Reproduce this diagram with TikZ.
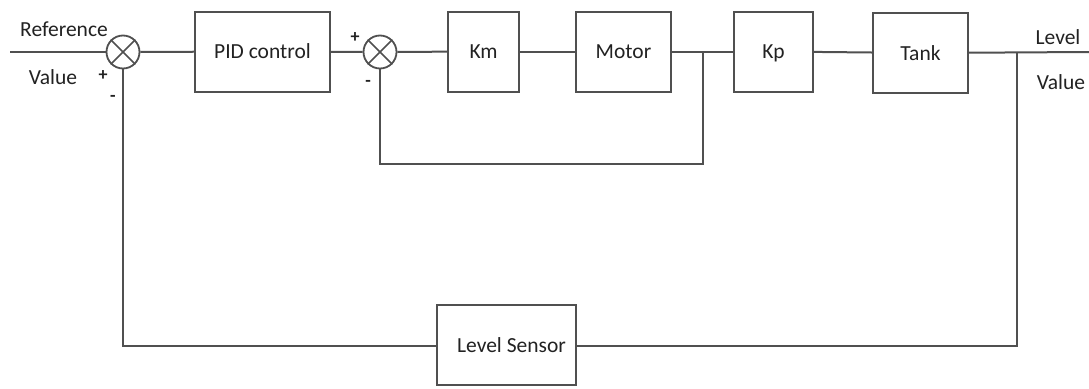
\documentclass[tikz,border=0pt]{standalone}
\usepackage{fontspec}
\setmainfont{Carlito}
\usepackage{tikz}
\usetikzlibrary{positioning,calc}
\definecolor{wire}{HTML}{505050}
\definecolor{ink}{HTML}{222222}

\begin{document}
\begin{tikzpicture}[x=1pt,y=-1pt,
  every node/.style={font=\fontsize{21.5}{24}\selectfont,text=ink},
  blk/.style={draw=wire,line width=2pt,fill=white,inner sep=0pt,minimum height=80pt,
    text height=14pt,text depth=0pt},
  sum/.style={draw=wire,line width=1.8pt,circle,inner sep=0pt,minimum size=33pt},
  sg/.style={font=\fontsize{18}{20}\selectfont\bfseries,inner sep=0pt},
  wire/.style={draw=wire,line width=2pt}]
  \fill[white] (0,0) rectangle (1089,388);
  \useasboundingbox (0,0) rectangle (1089,388);
  \node[sum] (sumA) at (123,52) {};
  \node[blk,minimum width=135pt] (pid) at (262.5,51.5) {PID control};
  \node[sum] (sumB) at (380,52) {};
  \node[blk,minimum width=71pt] (km) at (483.5,51.5) {Km};
  \node[blk,minimum width=95pt] (motor) at (623.5,51.5) {Motor};
  \node[blk,minimum width=79pt] (kp) at (773.5,51.5) {Kp};
  \node[blk,minimum width=95pt] (tank) at (920.5,53) {Tank};
  \node[blk,minimum width=139pt] (sensor) at (506.5,345) {\hspace*{10pt}Level Sensor};
  \coordinate (in) at (10,52);
  \coordinate (jB) at (703,52);
  \coordinate (cB) at (703,164);
  \coordinate (jO) at (1017,52);
  \coordinate (out) at (1089,52);
  \foreach \s in {sumA,sumB} {
    \draw[wire,line width=1.5pt] (\s.north west) -- (\s.south east);
    \draw[wire,line width=1.5pt] (\s.north east) -- (\s.south west);
  }
  \draw[wire] (in) -- (sumA);
  \draw[wire] (sumA) -- (pid);
  \draw[wire] (pid) -- (sumB);
  \draw[wire] (sumB) -- (km);
  \draw[wire] (km) -- (motor);
  \draw[wire] (motor) -- (kp);
  \draw[wire] (kp) -- (tank);
  \draw[wire] (tank) -- (out);
  \draw[wire] (jB) -- (cB) -| (sumB);
  \draw[wire] (jO) |- (sensor.east |- 0,346);
  \draw[wire] (sensor.west |- 0,346) -| (sumA);
  \node (ref) at (64,29) {Reference};
  \node (refv) at (53,77) {Value};
  \node[sg] (pA) at (103,76) {+};
  \node[sg] (mA) at (113,98) {-};
  \node[sg] (pB) at (355,38) {+};
  \node[sg] (mB) at (368,83) {-};
  \node (lvl) at (1058,37) {Level};
  \node (lvlv) at (1061,82) {Value};
\end{tikzpicture}
\end{document}
